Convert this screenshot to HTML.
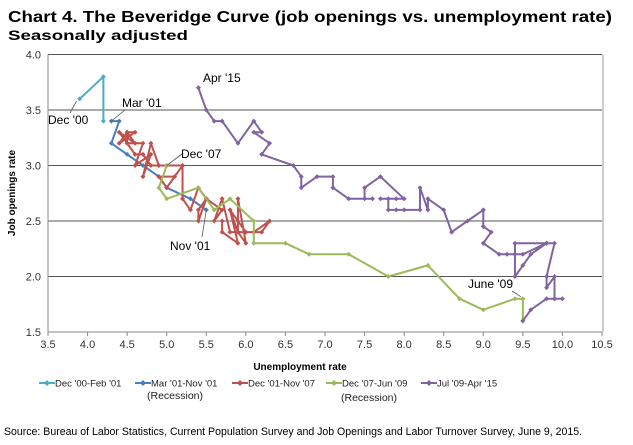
<!DOCTYPE html>
<html><head><meta charset="utf-8"><style>
body{margin:0;background:#fff;width:633px;height:445px;overflow:hidden;font-family:"Liberation Sans",sans-serif}
svg{display:block}
</style></head><body>
<svg width="633" height="445" id="chart">
<text x="8" y="22" font-size="16" font-weight="bold" textLength="604" lengthAdjust="spacingAndGlyphs">Chart 4. The Beveridge Curve (job openings vs. unemployment rate)</text>
<text x="8" y="40" font-size="14" font-weight="bold" textLength="180" lengthAdjust="spacingAndGlyphs">Seasonally adjusted</text>
<g id="grid"></g><g id="series"></g><g id="ann"></g>
<text x="300" y="370" font-size="10" font-weight="bold" text-anchor="middle">Unemployment rate</text>
<text transform="translate(15,193) rotate(-90)" font-size="10" font-weight="bold" text-anchor="middle">Job openings rate</text>
<g id="legend"></g>
<text x="4" y="435" font-size="11" textLength="578" lengthAdjust="spacingAndGlyphs">Source: Bureau of Labor Statistics, Current Population Survey and Job Openings and Labor Turnover Survey, June 9, 2015.</text>
</svg>
<script>
const xTicks=[3.5,4.0,4.5,5.0,5.5,6.0,6.5,7.0,7.5,8.0,8.5,9.0,9.5,10.0,10.5];
const yTicks=[1.5,2.0,2.5,3.0,3.5,4.0];
const seriesNames=["Dec '00-Feb '01","Mar '01-Nov '01","Dec '01-Nov '07","Dec '07-Jun '09","Jul '09-Apr '15"];
const s1=[[3.9,3.6],[4.2,3.8],[4.2,3.4]];
const s2=[[4.3,3.4],[4.4,3.4],[4.3,3.2],[4.5,3.1],[4.7,3.0],[4.9,2.9],[5.0,2.8],[5.3,2.7],[5.5,2.6]];
const s3=[[5.7,2.5],[5.7,2.4],[5.9,2.3],[5.8,2.6],[5.9,2.4],[5.9,2.7],[6.0,2.3],[5.9,2.4],[5.8,2.6],[6.0,2.4],[6.1,2.4],[6.2,2.4],[6.3,2.5],[6.1,2.4],[5.8,2.4],[5.7,2.7],[5.6,2.5],[5.7,2.6],[5.5,2.7],[5.4,2.5],[5.4,2.6],[5.5,2.7],[5.4,2.8],[5.3,2.6],[5.2,2.7],[5.2,3.0],[5.1,2.9],[4.9,2.9],[5.0,2.8],[5.2,3.0],[4.9,3.0],[4.8,3.2],[4.7,2.9],[4.8,3.1],[4.6,3.0],[4.7,3.2],[4.5,3.2],[4.5,3.3],[4.6,3.3],[4.4,3.2],[4.5,3.3],[4.6,3.2],[4.4,3.3],[4.6,3.1],[4.7,3.1],[4.8,3.0],[4.9,3.0],[5.0,3.0]];
const s4=[[5.0,3.0],[4.9,2.8],[5.0,2.7],[5.4,2.8],[5.6,2.6],[5.8,2.7],[6.1,2.5],[6.1,2.3],[6.5,2.3],[6.8,2.2],[7.3,2.2],[7.8,2.0],[8.3,2.1],[8.7,1.8],[9.0,1.7],[9.4,1.8],[9.5,1.8],[9.5,1.6]];
const s5=[[9.5,1.6],[9.6,1.7],[9.8,1.8],[9.9,1.8],[10.0,1.8],[9.9,1.8],[9.9,2.0],[9.8,1.9],[9.8,2.0],[9.9,2.3],[9.8,2.3],[9.4,2.3],[9.4,2.0],[9.5,2.1],[9.6,2.2],[9.8,2.3],[9.5,2.2],[9.4,2.2],[9.3,2.2],[9.2,2.2],[9.0,2.3],[9.1,2.4],[9.0,2.45],[9.0,2.6],[8.8,2.5],[8.6,2.4],[8.5,2.6],[8.3,2.7],[8.3,2.6],[8.2,2.8],[8.2,2.6],[8.0,2.6],[7.9,2.6],[7.8,2.6],[7.8,2.7],[7.7,2.7],[7.9,2.7],[8.0,2.7],[7.7,2.9],[7.5,2.8],[7.5,2.7],[7.6,2.7],[7.3,2.7],[7.1,2.8],[7.1,2.9],[6.9,2.9],[6.7,2.8],[6.7,2.9],[6.6,3.0],[6.2,3.1],[6.3,3.2],[6.1,3.3],[6.2,3.3],[6.1,3.4],[5.9,3.2],[5.7,3.4],[5.6,3.4],[5.5,3.5],[5.4,3.7]];
const colors=["#4bacc6","#4a7ebb","#c0504d","#9bbb59","#8064a2"];
const NS="http://www.w3.org/2000/svg";
const L=48,R=602,T=54.5,B=332;
const X=v=>L+(v-3.5)/7*(R-L), Y=v=>B-(v-1.5)/2.5*(B-T);
function mk(tag,at,parent){const e=document.createElementNS(NS,tag);for(const k in at)e.setAttribute(k,at[k]);parent.appendChild(e);return e;}
const grid=document.getElementById('grid');
yTicks.forEach(v=>{
 const ln=mk('line',{x1:L,x2:R,y1:Y(v),y2:Y(v),stroke:v==1.5?'#888':'#555','stroke-width':1},grid);
 
 
 const t=mk('text',{x:L-7,y:Y(v)+4,'font-size':11,'text-anchor':'end',fill:'#333'},grid);t.textContent=v.toFixed(1);
 
 
});
const ax=mk('line',{x1:L,x2:L,y1:T,y2:B,stroke:'#888'},grid);


const rb=mk('line',{x1:R+1,x2:R+1,y1:T,y2:B,stroke:'#999'},grid);


xTicks.forEach(v=>{
 const tk=mk('line',{x1:X(v),x2:X(v),y1:B,y2:B+4,stroke:'#888'},grid);
 
 
 const t=mk('text',{x:X(v),y:B+16,'font-size':11,'text-anchor':'middle',fill:'#333'},grid);t.textContent=v.toFixed(1);
 
 
});
const sg=document.getElementById('series');
[s1,s2,s3,s4,s5].forEach((s,i)=>{
 const p=mk('polyline',{points:s.map(d=>X(d[0])+','+Y(d[1])).join(' '),fill:'none',stroke:colors[i],'stroke-width':2,'stroke-linejoin':'round'},sg);
 
 
 s.forEach(d=>{const x=X(d[0]),y=Y(d[1]);
  const m=mk('path',{d:`M${x} ${y-2.5}L${x+2.5} ${y}L${x} ${y+2.5}L${x-2.5} ${y}Z`,fill:colors[i]},sg);
  
  
 });
});
const ann=document.getElementById('ann');
[["Dec '00",48,124,X(3.9)-3,Y(3.6)+2,70,113],["Mar '01",122,107,X(4.3),Y(3.4),125,110],["Dec '07",181,158,X(5.0),Y(3.0),182,154],["Nov '01",170,250,X(5.5),Y(2.6),202,237],["Apr '15",203,82,null],["June '09",468,288,X(9.5)-2,Y(1.8)-2,512,291]].forEach(a=>{
 const t=mk('text',{x:a[1],y:a[2],'font-size':12},ann);t.textContent=a[0];
 
 
 if(a[3]!==null){const l=mk('line',{x1:a[5],y1:a[6],x2:a[3],y2:a[4],stroke:'#555','stroke-width':0.8},ann);
 
 }
});
const lg=document.getElementById('legend');
const lx=[39,135,232,326,421];
seriesNames.forEach((n,i)=>{
 const y=383;
 const l=mk('line',{x1:lx[i],x2:lx[i]+16,y1:y,y2:y,stroke:colors[i],'stroke-width':2},lg);
 
 
 const cx=lx[i]+8;
 mk('path',{d:`M${cx} ${y-3}L${cx+3} ${y}L${cx} ${y+3}L${cx-3} ${y}Z`,fill:colors[i]},lg);
 const t=mk('text',{x:lx[i]+16,y:y+3.5,'font-size':9.5,fill:'#222'},lg);t.textContent=n;
 
 
});
[[175,399],[369,401]].forEach(p=>{const t=mk('text',{x:p[0],y:p[1],'font-size':10.5,'text-anchor':'middle',fill:'#222'},lg);t.textContent='(Recession)';
 
 });
</script>
</body></html>
